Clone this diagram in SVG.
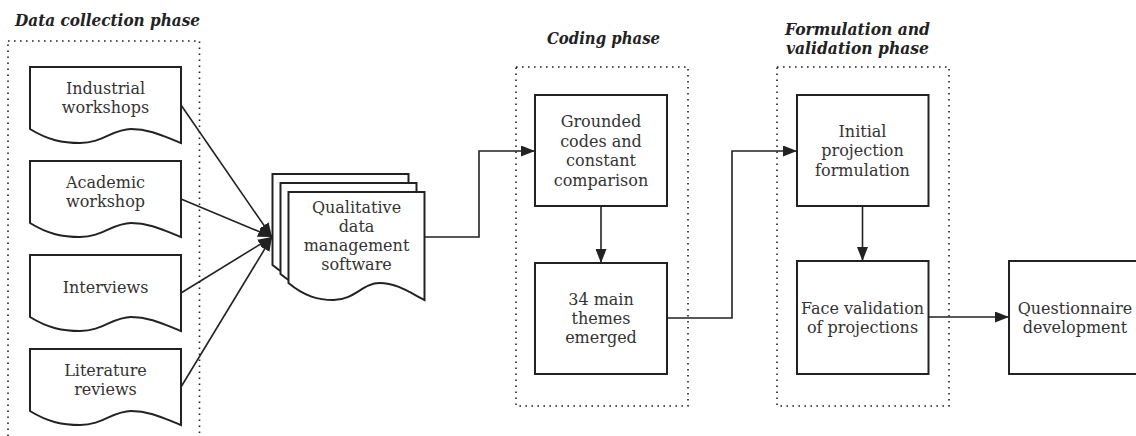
<svg xmlns="http://www.w3.org/2000/svg" xmlns:xlink="http://www.w3.org/1999/xlink" width="1136" height="436" viewBox="0 0 1136 436">
<style>
.t{font-family:"DejaVu Serif","Liberation Serif",serif;font-size:16px;fill:#333;text-anchor:middle}
.h{font-family:"DejaVu Serif","Liberation Serif",serif;font-size:16px;font-weight:bold;font-style:italic;fill:#222}
.hc{text-anchor:middle}
.box{fill:#fff;stroke:#222;stroke-width:2}
.dot{fill:none;stroke:#222;stroke-width:1.6;stroke-dasharray:1.6 4.4}
.ln{fill:none;stroke:#222;stroke-width:1.6}
</style>
<defs>
<path id="doc" d="M0,0 H151 V76 C136,70.4 121,62 101,62 C83,62 72.5,76 50,76 C33,76 18,73.2 0,62 Z"/>
<path id="bigdoc" d="M0,0 H136 V108 C122.4,101.2 108.8,91 91,91 C74.8,91 65.3,108 45,108 C30,108 16.3,104.6 0,91 Z"/>
<marker id="arr" markerUnits="userSpaceOnUse" markerWidth="14" markerHeight="11" refX="14" refY="5.5" orient="auto" viewBox="0 0 14 11">
<path d="M0,0 L14,5.5 L0,11 Z" fill="#222"/>
</marker>
</defs>
<rect width="1136" height="436" fill="#fff"/>

<g id="phase-data">
<rect class="dot" x="8" y="41" width="191.5" height="420"/>
<text class="h" x="15" y="26" textLength="185" lengthAdjust="spacingAndGlyphs">Data collection phase</text>
</g>
<g id="phase-coding">
<rect class="dot" x="516" y="67" width="172" height="339"/>
<text class="h hc" x="603.5" y="44" textLength="113" lengthAdjust="spacingAndGlyphs">Coding phase</text>
</g>
<g id="phase-formulation">
<rect class="dot" x="777" y="67" width="172" height="339"/>
<text class="h hc" x="857.5" y="35" textLength="145" lengthAdjust="spacingAndGlyphs">Formulation and</text>
<text class="h hc" x="857.5" y="54" textLength="143" lengthAdjust="spacingAndGlyphs">validation phase</text>
</g>

<g id="connectors">
<path class="ln" d="M181,105 L272,237" marker-end="url(#arr)"/>
<path class="ln" d="M181,199 L272,237" marker-end="url(#arr)"/>
<path class="ln" d="M181,293 L272,237" marker-end="url(#arr)"/>
<path class="ln" d="M181,387 L272,237" marker-end="url(#arr)"/>
<path class="ln" d="M424,237 H479 V151 H535" marker-end="url(#arr)"/>
<path class="ln" d="M601,206 V263" marker-end="url(#arr)"/>
<path class="ln" d="M667,318 H732 V151 H797" marker-end="url(#arr)"/>
<path class="ln" d="M862.5,206 V261" marker-end="url(#arr)"/>
<path class="ln" d="M928,317 H1009" marker-end="url(#arr)"/>
</g>

<g id="industrial">
<use xlink:href="#doc" href="#doc" class="box" x="30" y="67"/>
<text class="t" x="105.5" y="94">Industrial</text>
<text class="t" x="105.5" y="113">workshops</text>
</g>
<g id="academic">
<use xlink:href="#doc" href="#doc" class="box" x="30" y="161"/>
<text class="t" x="105.5" y="188">Academic</text>
<text class="t" x="105.5" y="207">workshop</text>
</g>
<g id="interviews">
<use xlink:href="#doc" href="#doc" class="box" x="30" y="255"/>
<text class="t" x="105.5" y="292.5">Interviews</text>
</g>
<g id="literature">
<use xlink:href="#doc" href="#doc" class="box" x="30" y="349"/>
<text class="t" x="105.5" y="376">Literature</text>
<text class="t" x="105.5" y="395">reviews</text>
</g>

<g id="qualitative">
<use xlink:href="#bigdoc" href="#bigdoc" class="box" x="272.5" y="174"/>
<use xlink:href="#bigdoc" href="#bigdoc" class="box" x="280.5" y="183"/>
<use xlink:href="#bigdoc" href="#bigdoc" class="box" x="288.5" y="192"/>
<text class="t" x="356.5" y="213">Qualitative</text>
<text class="t" x="356.5" y="232">data</text>
<text class="t" x="356.5" y="251">management</text>
<text class="t" x="356.5" y="270">software</text>
</g>

<g id="grounded">
<rect class="box" x="535" y="95" width="132" height="111"/>
<text class="t" x="601" y="127">Grounded</text>
<text class="t" x="601" y="146.5">codes and</text>
<text class="t" x="601" y="166">constant</text>
<text class="t" x="601" y="185.5">comparison</text>
</g>
<g id="themes">
<rect class="box" x="535" y="263" width="132" height="111"/>
<text class="t" x="601" y="305">34 main</text>
<text class="t" x="601" y="324">themes</text>
<text class="t" x="601" y="343">emerged</text>
</g>
<g id="initial">
<rect class="box" x="797" y="95" width="131.5" height="111"/>
<text class="t" x="862.5" y="137">Initial</text>
<text class="t" x="862.5" y="156">projection</text>
<text class="t" x="862.5" y="176">formulation</text>
</g>
<g id="face">
<rect class="box" x="797" y="261" width="131.5" height="113"/>
<text class="t" x="862.5" y="313.5">Face validation</text>
<text class="t" x="862.5" y="333">of projections</text>
</g>
<g id="questionnaire">
<rect class="box" x="1009" y="261" width="132" height="113"/>
<text class="t" x="1075" y="313.5">Questionnaire</text>
<text class="t" x="1075" y="333">development</text>
</g>
</svg>
